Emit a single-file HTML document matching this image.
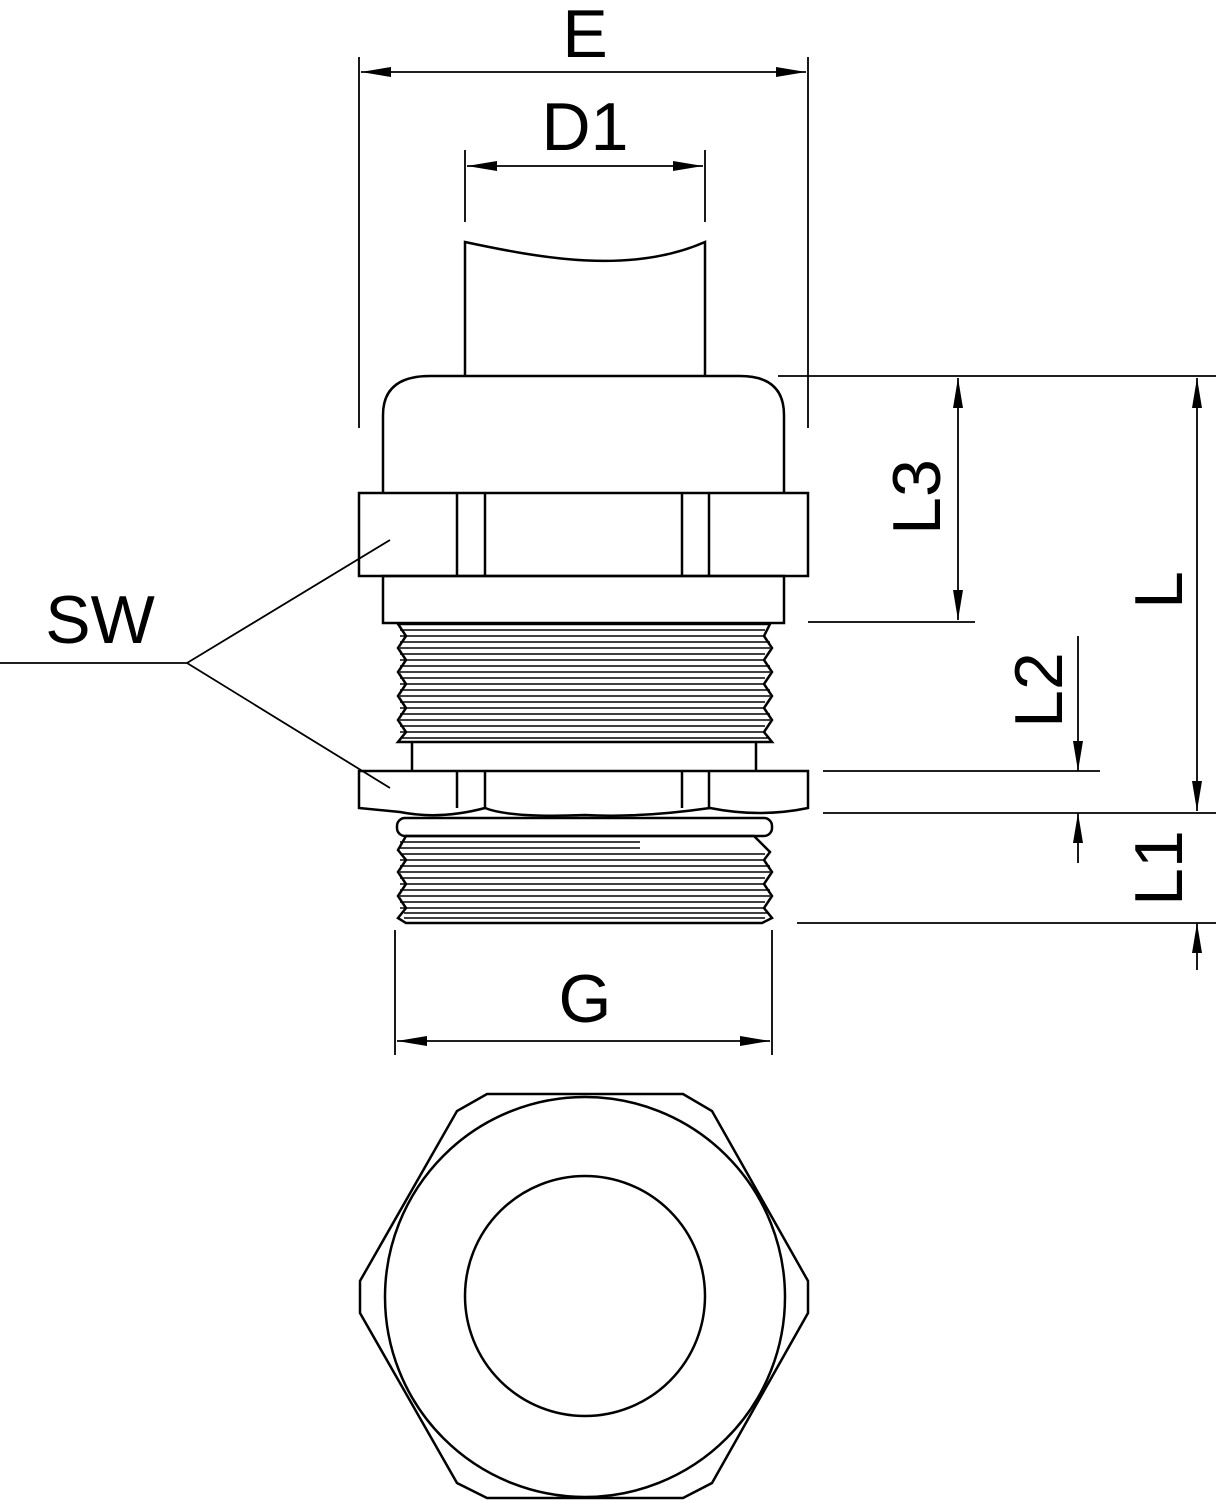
<!DOCTYPE html>
<html><head><style>body{margin:0;background:#fff}svg{display:block}</style></head>
<body>
<svg width="1216" height="1500" viewBox="0 0 1216 1500" xmlns="http://www.w3.org/2000/svg">
<defs>
<marker id="a" viewBox="0 0 30 10" refX="30" refY="5" markerWidth="30" markerHeight="10" markerUnits="userSpaceOnUse" orient="auto-start-reverse"><path d="M0,0 L30,5 L0,10 z" fill="#000"/></marker>
</defs>
<g fill="none" stroke="#000" stroke-width="2.5">
<path d="M465,376 V242 C540,258 630,275 705,242 V376"/>
<path d="M383,493 V415 Q383,376 430,376 H740 Q784,376 784,415 V493"/>
<rect x="359" y="493" width="449" height="83"/>
<path d="M457,493V576M485,493V576M682,493V576M709,493V576"/>
<rect x="383" y="576" width="401" height="47"/>
<path d="M398,624 H770 L764,636 772,648 764,660 772,672 764,684 772,696 764,708 772,720 764,732 772,742 H398 L406,732 398,720 406,708 398,696 406,684 398,672 406,660 398,648 406,636 Z"/>
<path d="M400,630H765M400,636H765M400,642H770M400,648H770M400,654H765M400,660H765M400,666H770M400,672H770M400,678H765M400,684H765M400,690H770M400,696H770M400,702H765M400,708H765M400,714H770M400,720H770M400,726H765M400,732H765M400,738H768" stroke-width="1.5"/>
<path d="M412,742V771M756,742V771"/>
<path d="M359,771 H808 V808 Q760,818 710,808 Q640,818 585,815 Q510,818 485,808 Q440,820 400,812 L359,808 Z"/>
<path d="M457,771V808M485,771V808M682,771V808M709,771V808"/>
<rect x="397" y="818" width="375" height="18" rx="8"/>
<path d="M406,836 H754 L770,852 764,860 772,872 764,884 772,896 764,908 772,918 762,923 H406 L398,918 406,908 398,896 406,884 398,872 406,860 398,850 Z"/>
<path d="M400,842H640M400,848H640M400,854H765M400,860H765M400,866H770M400,872H770M400,878H765M400,884H765M400,890H770M400,896H770M400,902H765M400,908H765M404,913H768M404,918H765" stroke-width="1.5"/>
<path d="M487,1094 H683 L712,1111 808,1281 808,1313 712,1483 683,1498 H487 L457,1483 360,1313 360,1281 457,1111 Z"/>
<circle cx="585" cy="1297" r="200"/>
<circle cx="585" cy="1296" r="120"/>
</g>
<g stroke="#000" stroke-width="1.8" fill="none">
<path d="M359,57V428M808,57V428"/>
<line x1="361" y1="72" x2="806" y2="72" marker-start="url(#a)" marker-end="url(#a)"/>
<path d="M465,150V222M705,150V222"/>
<line x1="467" y1="166" x2="703" y2="166" marker-start="url(#a)" marker-end="url(#a)"/>
<path d="M778,376H1216M808,622H975M823,771H1100M823,813H1216M797,923H1216"/>
<line x1="958" y1="378" x2="958" y2="620" marker-start="url(#a)" marker-end="url(#a)"/>
<line x1="1197" y1="378" x2="1197" y2="811" marker-start="url(#a)" marker-end="url(#a)"/>
<line x1="1078" y1="636" x2="1078" y2="771" marker-end="url(#a)"/>
<line x1="1078" y1="863" x2="1078" y2="813" marker-end="url(#a)"/>
<line x1="1197" y1="970" x2="1197" y2="923" marker-end="url(#a)"/>
<path d="M395,930V1055M772,930V1055"/>
<line x1="397" y1="1041" x2="770" y2="1041" marker-start="url(#a)" marker-end="url(#a)"/>
<path d="M0,663H187L390,540M187,663L390,788"/>
</g>
<g font-family="Liberation Sans, sans-serif" font-size="68" fill="#000" text-anchor="middle">
<text x="585" y="57">E</text>
<text x="585" y="150">D1</text>
<text x="585" y="1022">G</text>
<text x="100" y="643">SW</text>
<text transform="translate(940,497) rotate(-90)">L3</text>
<text transform="translate(1182,590) rotate(-90)">L</text>
<text transform="translate(1062,690) rotate(-90)">L2</text>
<text transform="translate(1182,868) rotate(-90)">L1</text>
</g>
</svg>
</body></html>
